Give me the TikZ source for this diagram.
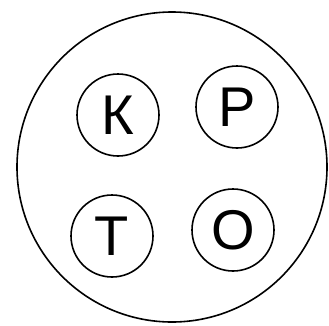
\documentclass[tikz,border=0pt]{standalone}
\usepackage{fontspec}
\newfontfamily\cyrfont{Liberation Sans}
\usepackage{tikz}

\tikzset{
    outer/.style={draw,circle,line width=1.6pt,minimum size=310pt,inner sep=0pt},
    letter/.style={draw,circle,line width=1.6pt,minimum size=82pt,inner sep=0pt,
        font=\cyrfont\fontsize{56}{58}\selectfont},
}

\begin{document}
\begin{tikzpicture}[x=1pt,y=-1pt]
        \useasboundingbox (0,0) rectangle (329,325);
        \node[outer] (ring) at (172,167) {};
        \node[letter] (k) at (118,115) {К};
        \node[letter] (r) at (237,107) {Р};
        \node[letter] (t) at (112,236) {Т};
        \node[letter] (o) at (233,230) {О};
    \end{tikzpicture}
\end{document}
